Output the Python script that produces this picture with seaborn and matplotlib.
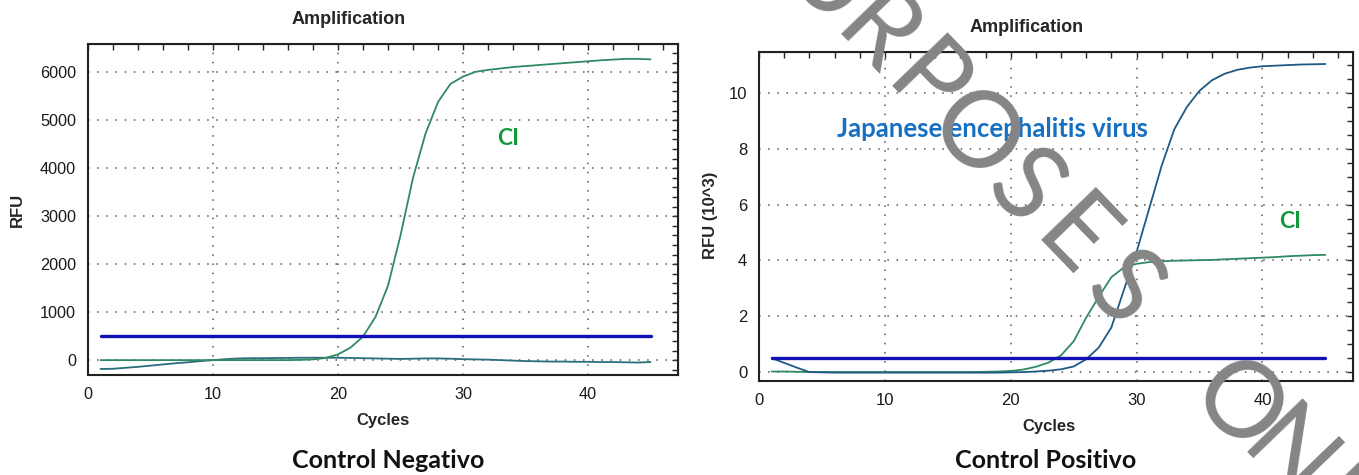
import matplotlib
matplotlib.use("Agg")
import matplotlib.pyplot as plt
import seaborn as sns
import pandas as pd
from matplotlib.ticker import MultipleLocator

# ---------------- data ----------------
cycles = list(range(1, 46))

neg_ci = [0, 0, 0, 0, 0, 0, 0, 0, 0, 0, 0, 0, 0, 0, 0, 0, 5,
          15, 45, 120, 260, 490, 900, 1550, 2600, 3800, 4720, 5380, 5760, 5910,
          6010, 6050, 6080, 6110, 6130, 6150, 6170, 6190, 6210, 6230, 6250,
          6265, 6280, 6280, 6270]
neg_target = [-185, -180, -160, -140, -115, -90, -65, -45, -20, 0, 20, 35, 40, 40,
              45, 45, 50, 50, 50, 50, 45, 40, 35, 30, 25, 30, 35, 35, 30, 20, 15,
              10, 0, -10, -20, -25, -30, -30, -35, -35, -40, -40, -45, -50, -40]
threshold_neg = 500

pos_jev = [0.5, 0.33, 0.16, 0.0, -0.01, -0.02, -0.02, -0.02, -0.02, -0.02, -0.02,
           -0.02, -0.02, -0.02, -0.02, -0.02, -0.02, -0.02, -0.02, -0.01, 0.0,
           0.02, 0.05, 0.1, 0.2, 0.46, 0.88, 1.6, 2.95, 4.3, 5.85, 7.4, 8.7, 9.5,
           10.08, 10.46, 10.69, 10.83, 10.91, 10.96, 10.98, 11.0, 11.02, 11.03, 11.04]
pos_ci = [0.02, 0.02, 0.01, 0.0, 0.0, 0.0, 0.0, 0.0, 0.0, 0.0, 0.0, 0.0, 0.0, 0.0,
          0.0, 0.0, 0.0, 0.01, 0.02, 0.04, 0.09, 0.19, 0.34, 0.6, 1.1, 1.95, 2.7,
          3.4, 3.75, 3.88, 3.94, 3.97, 3.99, 4.0, 4.01, 4.02, 4.04, 4.06, 4.08,
          4.1, 4.12, 4.15, 4.17, 4.19, 4.2]
threshold_pos = 0.5

panel_titles = ["Control Negativo", "Control Positivo"]
watermark = "PURPOSES ONLY"

# ---------------- style ----------------
sns.set_style("white")
plt.rcParams["font.family"] = ["Liberation Sans", "DejaVu Sans"]

W, H = 1359, 475
fig = plt.figure(figsize=(W / 100, H / 100), dpi=100)

def px_axes(l, t, r, b):
    return fig.add_axes([l / W, 1 - b / H, (r - l) / W, (b - t) / H])

ax1 = px_axes(88, 44, 678, 375)
ax2 = px_axes(759, 52, 1353, 381)

GREEN = "#2f8a62"
TEAL = "#2a6d7c"
JEV = "#1f5a84"
THR = "#1010b4"

def style_axes(ax, ymaj, ymin, ylim, fs):
    ax.set_xlim(0, 47.2)
    ax.set_ylim(*ylim)
    ax.xaxis.set_major_locator(MultipleLocator(10))
    ax.xaxis.set_minor_locator(MultipleLocator(2))
    ax.yaxis.set_major_locator(MultipleLocator(ymaj))
    ax.yaxis.set_minor_locator(MultipleLocator(ymin))
    ax.grid(True, which="major", linestyle=(0, (1, 5)), color="#555555", linewidth=1.1)
    ax.tick_params(which="major", direction="inout", length=9, width=1.2,
                   labelsize=fs, labelcolor="#1a1a1a", pad=4)
    ax.tick_params(which="minor", direction="inout", length=6, width=1.0)
    for s in ax.spines.values():
        s.set_color("#222222")
        s.set_linewidth(1.5)
    sx = ax.secondary_xaxis("top")
    sx.xaxis.set_major_locator(MultipleLocator(10))
    sx.xaxis.set_minor_locator(MultipleLocator(2))
    sx.tick_params(which="both", direction="in", labeltop=False, length=4, width=1.0)
    sy = ax.secondary_yaxis("right")
    sy.yaxis.set_major_locator(MultipleLocator(ymaj))
    sy.yaxis.set_minor_locator(MultipleLocator(ymin))
    sy.tick_params(which="both", direction="in", labelright=False, length=4, width=1.0)
    ax.set_xlabel("")
    ax.set_ylabel("")

# ---- left panel ----
df_neg = pd.DataFrame({"cycle": cycles, "ci": neg_ci, "target": neg_target,
                       "thr": [threshold_neg] * len(cycles)})
sns.lineplot(data=df_neg, x="cycle", y="target", ax=ax1, color=TEAL, lw=1.3)
sns.lineplot(data=df_neg, x="cycle", y="ci", ax=ax1, color=GREEN, lw=1.3)
sns.lineplot(data=df_neg, x="cycle", y="thr", ax=ax1, color=THR, lw=2.4)
style_axes(ax1, 1000, 200, (-310, 6590), 11.7)

# ---- right panel ----
df_pos = pd.DataFrame({"cycle": cycles, "jev": pos_jev, "ci": pos_ci,
                       "thr": [threshold_pos] * len(cycles)})
sns.lineplot(data=df_pos, x="cycle", y="ci", ax=ax2, color=GREEN, lw=1.3)
sns.lineplot(data=df_pos, x="cycle", y="jev", ax=ax2, color=JEV, lw=1.3)
sns.lineplot(data=df_pos, x="cycle", y="thr", ax=ax2, color=THR, lw=2.4)
style_axes(ax2, 2, 0.5, (-0.32, 11.47), 12)

# ---- text ----
def ftext(x, y, s, **kw):
    return fig.text(x / W, 1 - y / H, s, ha="center", va="center", **kw)

ftext(349, 20, "Amplification", fontsize=13, fontweight="bold")
ftext(1027, 27, "Amplification", fontsize=13, fontweight="bold")
ftext(383, 421, "Cycles", fontsize=12, fontweight="bold")
ftext(1049, 427, "Cycles", fontsize=12, fontweight="bold")
ftext(17, 210, "RFU", fontsize=12, fontweight="bold", rotation=90)
ftext(710, 215, "RFU (10^3)", fontsize=12, fontweight="bold", rotation=90)

geo = ["Lato", "DejaVu Sans"]
ftext(388, 461, panel_titles[0], fontsize=18, fontweight="bold", family=geo, color="#111111")
ftext(1046, 461, panel_titles[1], fontsize=18, fontweight="bold", family=geo, color="#111111")

ftext(508, 139, "CI", fontsize=16.5, fontweight="bold", family=geo, color="#13993c")
ftext(1290, 221, "CI", fontsize=16.5, fontweight="bold", family=geo, color="#13993c")
ftext(993, 129, "Japanese encephalitis virus", fontsize=18.5, fontweight="bold",
      family=geo, color="#1670c2")

# watermark: letters spread along a 45-degree diagonal (wide tracking)
step_x, step_y = 49.5, 51
cx, cy = 1073, 240          # centre of the 7th glyph ("E")
shift = 0.0
for i, ch in enumerate(watermark):
    if ch == " ":
        shift = 0.3
        continue
    k = i - 6 + shift
    ftext(cx + k * step_x, cy + k * step_y, ch, rotation=-46, fontsize=76,
          color="#858585", family=["Lato", "DejaVu Sans"], fontweight="normal",
          zorder=20)

fig.savefig("out.png", dpi=100)
